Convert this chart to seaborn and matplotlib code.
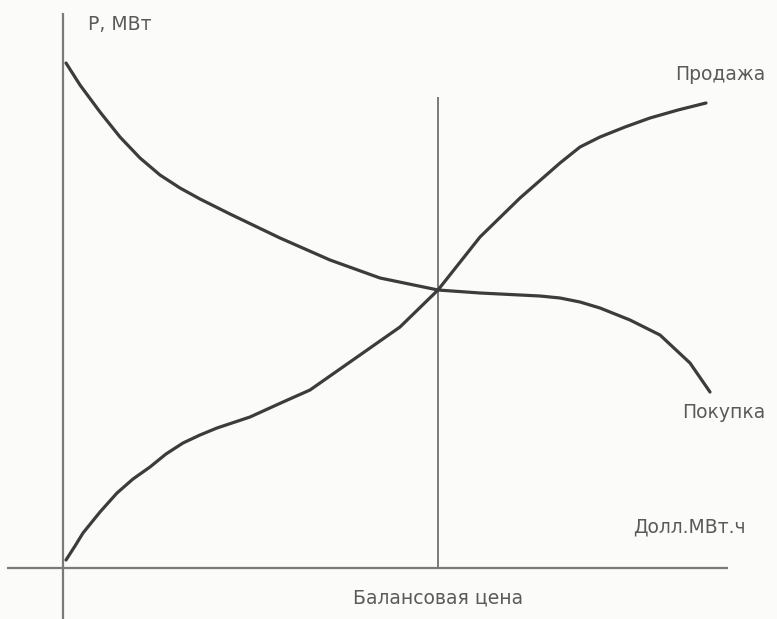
import matplotlib
matplotlib.use("Agg")
import matplotlib.pyplot as plt
import pandas as pd
import seaborn as sns

sns.set_style("white")
plt.rcParams['font.family'] = ['DejaVu Sans']

# Продажа (sale) curve: price -> power
sale_price = [3, 12, 20, 37, 54, 70, 87, 103, 120, 137, 154, 187, 220, 247, 287, 337, 375, 417, 457, 497, 517, 537, 562, 587, 615, 643]
sale_power = [8, 22, 35, 56, 75, 89, 101, 114, 125, 133, 140, 151, 166, 178, 206, 241, 278, 331, 370, 405, 421, 431, 441, 450, 458, 465]

# Покупка (purchase) curve
buy_price = [3, 17, 37, 57, 77, 97, 117, 137, 167, 217, 267, 317, 375, 417, 477, 497, 517, 537, 567, 597, 627, 647]
buy_power = [505, 483, 456, 431, 410, 393, 380, 369, 354, 330, 308, 290, 278, 275, 272, 270, 266, 260, 248, 233, 205, 176]

balance_price = 375

sale_df = pd.DataFrame({"price": sale_price, "power": sale_power})
buy_df = pd.DataFrame({"price": buy_price, "power": buy_power})

fig = plt.figure(figsize=(7.77, 6.19), dpi=100, facecolor="#fbfbfa")
ax = fig.add_axes([0, 0, 1, 1])
ax.set_facecolor("#fbfbfa")
ax.set_xlim(-63, 714)
ax.set_ylim(-51, 568)
ax.axis("off")

axis_color = "#7a7a7a"
curve_color = "#3c3c3c"
text_color = "#5a5a5a"

# axes lines
ax.vlines(0, -51, 555, color=axis_color, lw=1.6)
ax.hlines(0, -56, 665, color=axis_color, lw=1.6)
ax.vlines(balance_price, 0, 471, color=axis_color, lw=1.4)

sns.lineplot(data=sale_df, x="price", y="power", ax=ax, color=curve_color,
             lw=2.3, estimator=None, sort=False)
sns.lineplot(data=buy_df, x="price", y="power", ax=ax, color=curve_color,
             lw=2.3, estimator=None, sort=False)

fs = 13.5
ax.text(25, 543, "Р, МВт", color=text_color, fontsize=fs, va="center", ha="left")
ax.text(612, 493, "Продажа", color=text_color, fontsize=fs, va="center", ha="left")
ax.text(619, 155, "Покупка", color=text_color, fontsize=fs, va="center", ha="left")
ax.text(570, 41, "Долл.МВт.ч", color=text_color, fontsize=fs, va="center", ha="left")
ax.text(balance_price, -30, "Балансовая цена", color=text_color, fontsize=fs,
        va="center", ha="center")

ax.set_xlabel("")
ax.set_ylabel("")
fig.savefig("out.png", dpi=100, facecolor=fig.get_facecolor())
